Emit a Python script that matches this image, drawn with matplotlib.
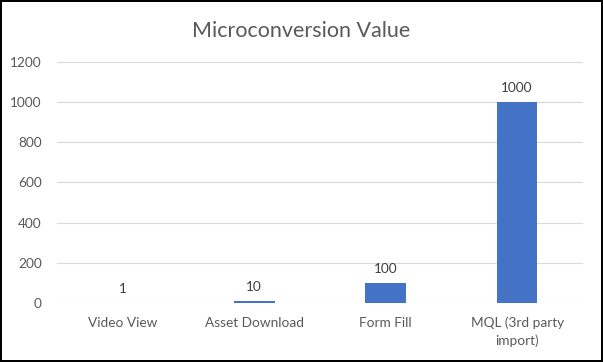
import matplotlib
matplotlib.use('Agg')
import matplotlib.pyplot as plt

categories = ['Video View', 'Asset Download', 'Form Fill', 'MQL (3rd party\nimport)']
values = [1, 10, 100, 1000]
yticks = [0, 200, 400, 600, 800, 1000, 1200]

plt.rcParams['font.family'] = ['Lato', 'DejaVu Sans']
grey = '#595959'

fig = plt.figure(figsize=(6.03, 3.62), dpi=100, edgecolor='black', linewidth=1.5)
ax = fig.add_axes([0.0945, 0.163, 0.872, 0.666])

x = range(len(categories))
bars = ax.bar(x, values, width=0.31, color='#4472C4', zorder=3)
for xi, v in zip(x, values):
    ax.text(xi, v + 40, str(v), ha='center', va='bottom', fontsize=9.8, color='#404040')

ax.set_xlim(-0.5, 3.5)
ax.set_ylim(0, 1200)
ax.set_yticks(yticks)
ax.set_xticks(list(x))
ax.set_xticklabels(categories, fontsize=9.8, color=grey, linespacing=1.5)
ax.tick_params(axis='y', labelsize=9.8, labelcolor=grey, length=0, pad=11)
ax.tick_params(axis='x', length=0, pad=10)
ax.grid(axis='y', color='#d9d9d9', linewidth=0.8, zorder=0)
for s in ax.spines.values():
    s.set_visible(False)

fig.text(0.5, 0.915, 'Microconversion Value', ha='center', va='center', fontsize=15.5, color=grey)

fig.savefig('out.png', dpi=100, edgecolor=fig.get_edgecolor())
